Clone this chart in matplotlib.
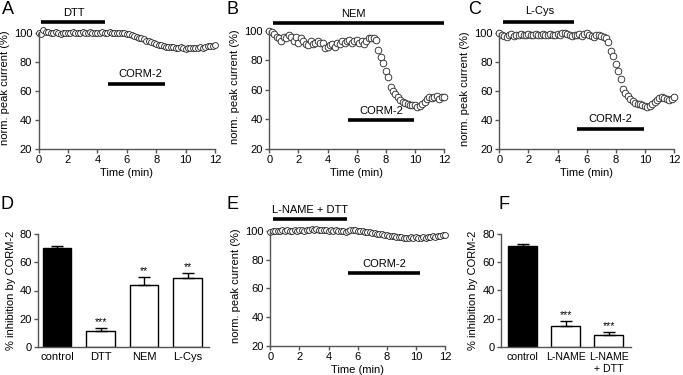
import numpy as np
import matplotlib
matplotlib.use("Agg")
import matplotlib.pyplot as plt

plt.rcParams["font.family"] = ["Liberation Sans", "DejaVu Sans"]
plt.rcParams["font.size"] = 8

# time-course recordings, one sweep every 10 s (0-12 min)
curr_A = [100, 99.3, 101.8, 100.8, 100.5, 100.2, 99.8, 100.4, 100.1, 99.6,
          100.3, 100.0, 99.7, 100.2, 100.6, 100.1, 99.8, 100.3, 100.5, 100.2,
          99.9, 100.4, 100.1, 99.8, 100.3, 100.0, 100.4, 99.9, 100.2, 100.5,
          100.1, 99.8, 100.3, 100.0, 100.2, 99.9, 99.6,
          99.0, 98.4, 97.8, 97.2, 96.8, 96.3, 95.6, 94.8, 94.2, 93.6,
          93.0, 92.5, 92.0, 91.4, 91.0, 90.6, 90.5, 90.3, 90.6, 90.0,
          89.6, 90.2, 89.4, 89.2, 89.8, 89.5, 90.0, 89.5, 89.7, 90.2,
          90.0, 90.5, 90.8, 91.0, 91.3, 91.5]
curr_B = [100, 99, 98, 96, 95, 93, 96, 95, 97, 96,
          93, 96, 92, 95, 93, 91, 90, 93, 91, 92,
          93, 92, 92, 88, 89, 90, 91, 89, 92, 91,
          93, 92, 93, 94, 92, 93, 94, 92, 93, 91,
          93, 95, 95, 95, 94,
          87, 82, 78, 73, 69, 62, 59, 57, 55, 53,
          51.5, 51, 50.5, 50, 50, 49.5, 48.5, 49, 50.5, 52,
          53.5, 55, 54.5, 55, 56, 54, 55.5, 55.5]
curr_C = [100, 98.5, 98, 97.5, 98.5, 99.5, 98, 99, 98.5, 99.5,
          98.5, 99, 99.5, 98.5, 99, 99.5, 98.5, 99, 99.5, 98.5,
          99, 99.5, 98.5, 99, 99.5, 99, 100.5, 100, 99.5, 98.5,
          98, 99, 98.5, 99.5, 98, 99.5, 100, 98.5, 98, 97.5,
          99, 98.5, 98, 97.5,
          97, 94, 88, 84, 79, 74, 68.5, 61.5, 58.5, 56.5,
          54.5, 53, 52, 51.2, 50.8, 50.5, 50, 49.3, 49.5, 51,
          52.5, 54, 55.5, 56, 55, 54.5, 54, 54.5, 56]
curr_E = [99.5, 100, 100.3, 99.8, 100.2, 100.5, 100, 100.4, 99.9, 100.3,
          100.6, 100.2, 100.5, 100.8, 100.3, 100.6, 101, 101.2, 100.8, 101.3,
          100.9, 100.5, 100.8, 100.4, 100.2, 100.5, 100.1, 100.4, 100.0, 100.3,
          99.8, 99.6, 100.2, 100.5, 100.8, 100.4, 100.1, 100.3, 99.9, 99.6,
          99.3, 99.0, 98.8, 98.5, 98.2, 97.9, 97.6, 97.3, 97.0, 96.8,
          96.5, 96.3, 96.0, 95.8, 95.6, 95.3, 95.0, 95.3, 95.8, 95.2,
          95.6, 95.0, 95.4, 95.8, 95.2, 95.5, 95.9, 96.2, 96.0, 96.5,
          96.8, 97.0, 97.2]
sweep_min = 1 / 6

# application bars: (label, start, end, y, text x, text y)
drugs_A = [("DTT", 0.2, 4.55, 107.8, 2.4, 114), ("CORM-2", 4.75, 8.6, 65, 6.9, 71.5)]
drugs_B = [("NEM", 0.25, 12.0, 105.4, 5.8, 111.5), ("CORM-2", 5.4, 9.95, 39.6, 7.7, 45.5)]
drugs_C = [("L-Cys", 0.25, 5.15, 107.8, 2.8, 115.5), ("CORM-2", 5.35, 9.95, 33.9, 7.65, 40.5)]
drugs_E = [("L-NAME + DTT", 0.2, 5.3, 108.1, 2.7, 114.5), ("CORM-2", 5.35, 10.3, 71, 7.8, 77)]

# bar charts
groups_D = ["control", "DTT", "NEM", "L-Cys"]
inhib_D = [70.5, 11.3, 44.2, 49.2]
sem_D = [1.5, 2.2, 5.7, 3.4]
stars_D = ["", "***", "**", "**"]
groups_F = ["control", "L-NAME", "L-NAME\n+ DTT"]
inhib_F = [71.5, 14.6, 8.3]
sem_F = [1.7, 3.5, 2.3]
stars_F = ["", "***", "***"]

W, H = 683, 375
fig = plt.figure(figsize=(W / 100, H / 100), dpi=100)
spine_col = "#555555"


def make_ax(x0, x1, p_lo, p_hi, lo, hi, ymin, ymax):
    ppu = (p_lo - p_hi) / (hi - lo)
    bottom = p_lo + (lo - ymin) * ppu
    top = p_lo - (ymax - lo) * ppu
    ax = fig.add_axes([x0 / W, 1 - bottom / H, (x1 - x0) / W, (bottom - top) / H])
    ax.set_ylim(ymin, ymax)
    for s in ["top", "right"]:
        ax.spines[s].set_visible(False)
    for s in ["left", "bottom"]:
        ax.spines[s].set_color(spine_col)
        ax.spines[s].set_linewidth(1)
    ax.tick_params(length=3, width=1, color=spine_col, labelsize=8, pad=1.5)
    return ax


def trace(ax, y, drugs, msize):
    t = np.arange(len(y)) * sweep_min
    ax.plot(t, y, "o", ms=msize, mfc="white", mec="#222222", mew=0.6, clip_on=False)
    ax.set_xlim(0, 12)
    ax.set_xticks(range(0, 13, 2))
    ax.set_yticks(range(20, 101, 20))
    ax.spines["left"].set_bounds(20, 100)
    ax.set_xlabel("Time (min)", labelpad=2)
    ax.set_ylabel("norm. peak current (%)", labelpad=3)
    for name, a, b, yy, tx, ty in drugs:
        ax.plot([a, b], [yy, yy], color="black", lw=2.6, solid_capstyle="butt", clip_on=False)
        ax.text(tx, ty, name, ha="center", va="center", fontsize=8)


def bars(ax, groups, vals, errs, stars, tick_fs):
    x = np.arange(len(groups))
    cols = ["black"] + ["white"] * (len(groups) - 1)
    ax.bar(x, vals, width=0.66, color=cols, edgecolor="black", lw=1)
    ax.errorbar(x, vals, yerr=[np.zeros(len(vals)), errs], fmt="none",
                ecolor="black", elinewidth=1, capsize=4, capthick=1)
    for xi, v, e, s in zip(x, vals, errs, stars):
        if s:
            ax.text(xi, v + e + 0.5, s, ha="center", va="bottom", fontsize=7.5)
    ax.set_xticks(x)
    ax.set_xticklabels(groups, fontsize=tick_fs)
    ax.tick_params(axis="x", length=0, pad=4)
    ax.set_yticks(range(0, 81, 20))
    ax.set_ylabel("% inhibition by CORM-2", labelpad=3)


axA = make_ax(38.5, 215, 149, 33, 20, 100, 20, 104)
trace(axA, curr_A, drugs_A, 4.2)
axB = make_ax(269.3, 444, 149, 30.7, 20, 100, 20, 104)
trace(axB, curr_B, drugs_B, 4.8)
axC = make_ax(499.3, 674, 149, 33.3, 20, 100, 20, 104)
trace(axC, curr_C, drugs_C, 4.8)
axE = make_ax(270.3, 445, 345.7, 231, 20, 100, 20, 104)
trace(axE, curr_E, drugs_E, 4.2)

axD = make_ax(38.3, 209, 346.7, 234.3, 0, 80, 0, 80)
bars(axD, groups_D, inhib_D, sem_D, stars_D, 8)
axD.set_xlim(-0.43, 3.49)
axF = make_ax(501, 631, 346.7, 234, 0, 80, 0, 80)
bars(axF, groups_F, inhib_F, sem_F, stars_F, 7.6)
axF.set_xlim(-0.5, 2.52)

for lab, px, py in [("A", 2, 1), ("B", 227, 1), ("C", 468, 1),
                    ("D", 1, 196), ("E", 227, 196), ("F", 498, 196)]:
    fig.text(px / W, 1 - py / H, lab, fontsize=13, ha="left", va="top")

fig.savefig("out.png", dpi=100)
